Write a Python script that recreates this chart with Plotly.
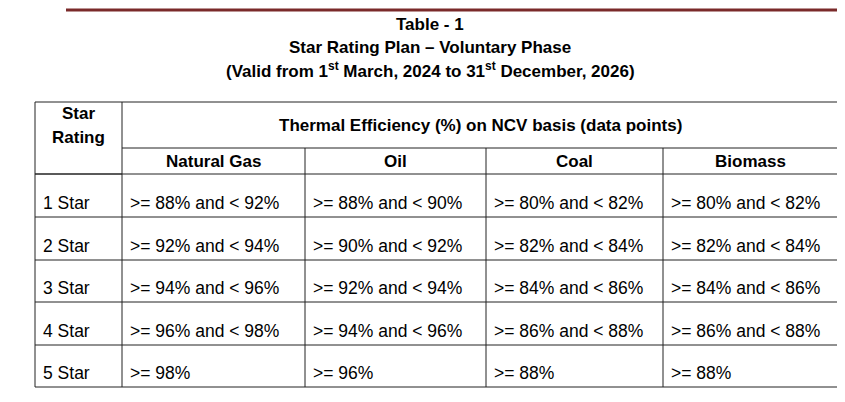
import plotly.graph_objects as go

# table data
title_lines = ["Table - 1", "Star Rating Plan – Voluntary Phase",
               "(Valid from 1<sup>st</sup> March, 2024 to 31<sup>st</sup> December, 2026)"]
fuels = ["Natural Gas", "Oil", "Coal", "Biomass"]
ratings = ["1 Star", "2 Star", "3 Star", "4 Star", "5 Star"]
natural_gas = [">= 88% and < 92%", ">= 92% and < 94%", ">= 94% and < 96%", ">= 96% and < 98%", ">= 98%"]
oil = [">= 88% and < 90%", ">= 90% and < 92%", ">= 92% and < 94%", ">= 94% and < 96%", ">= 96%"]
coal = [">= 80% and < 82%", ">= 82% and < 84%", ">= 84% and < 86%", ">= 86% and < 88%", ">= 88%"]
biomass = [">= 80% and < 82%", ">= 82% and < 84%", ">= 84% and < 86%", ">= 86% and < 88%", ">= 88%"]

# grid geometry in pixel coordinates
col_x = [27, 114, 297, 478, 655, 830]
top, head1, head2 = 94, 140, 166
row_y = [166, 209, 252, 294, 337, 379]

fig = go.Figure()
shapes = []
ann = []
line = dict(color="#222", width=1)

# dark red rule at the top
shapes.append(dict(type="line", x0=58, x1=835, y0=2, y1=2, line=dict(color="#7a2a2a", width=3)))

title_font = dict(size=17, family="Liberation Sans Narrow, Liberation Sans, Arial", color="black")
for i, t in enumerate(title_lines):
    ann.append(dict(x=422, y=16 + 23 * i, text="<b>" + t + "</b>", showarrow=False,
                    font=title_font))

# horizontal lines
shapes.append(dict(type="line", x0=col_x[0], x1=col_x[-1], y0=top, y1=top, line=line))
shapes.append(dict(type="line", x0=col_x[1], x1=col_x[-1], y0=head1, y1=head1, line=line))
for y in row_y:
    shapes.append(dict(type="line", x0=col_x[0], x1=col_x[-1], y0=y, y1=y, line=line))
shapes.append(dict(type="line", x0=col_x[0], x1=col_x[1], y0=head2, y1=head2, line=line))
# vertical lines
for i, x in enumerate(col_x):
    y0 = top if i in (0, 1, 5) else head1
    shapes.append(dict(type="line", x0=x, x1=x, y0=y0, y1=row_y[-1], line=line))

bold = dict(size=17, family="Liberation Sans, Arial", color="black")
ann.append(dict(x=70, y=105, text="<b>Star</b>", showarrow=False, font=bold))
ann.append(dict(x=70, y=129, text="<b>Rating</b>", showarrow=False, font=bold))
ann.append(dict(x=(col_x[1] + col_x[-1]) / 2, y=117, showarrow=False, font=bold,
                text="<b>Thermal Efficiency (%) on NCV basis (data points)</b>"))
for j, f in enumerate(fuels):
    ann.append(dict(x=(col_x[j + 1] + col_x[j + 2]) / 2, y=153, text="<b>" + f + "</b>",
                    showarrow=False, font=bold))

reg = dict(size=17.5, family="Liberation Sans, Arial", color="black")
columns = [ratings, natural_gas, oil, coal, biomass]
for c, vals in enumerate(columns):
    for r, v in enumerate(vals):
        ann.append(dict(x=col_x[c] + 6, y=row_y[r + 1] - 14, text=v, showarrow=False,
                        xanchor="left", font=reg))

fig.update_layout(width=845, height=402, margin=dict(l=0, r=0, t=0, b=0),
                  plot_bgcolor="white", paper_bgcolor="white",
                  shapes=shapes, annotations=ann, showlegend=False)
fig.update_xaxes(range=[0, 845], visible=False)
fig.update_yaxes(range=[402, 0], visible=False)
fig.write_html("out.html")
